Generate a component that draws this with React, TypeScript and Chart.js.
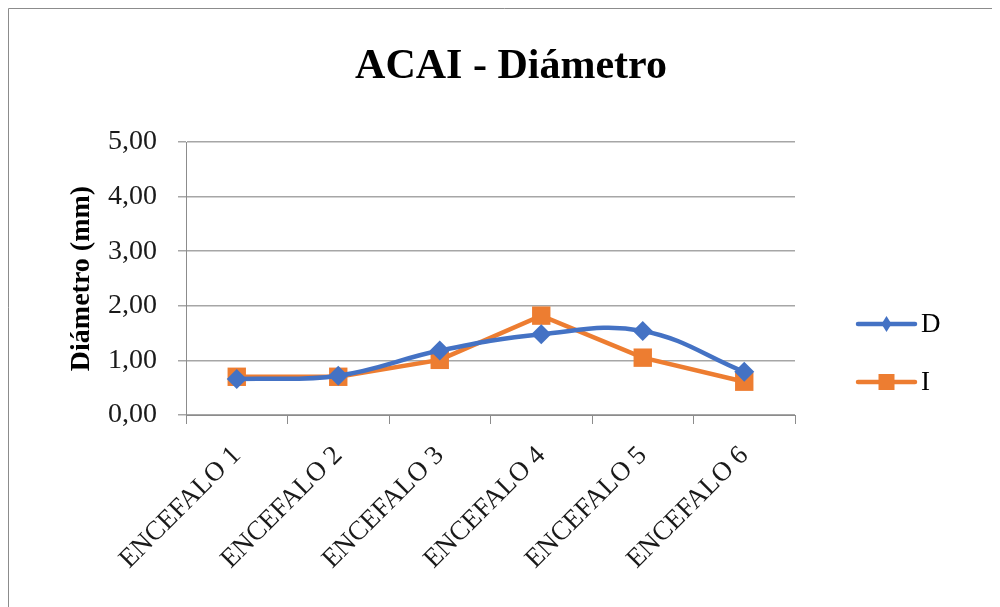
import React, { useEffect, useRef } from "react";
import { Chart, registerables } from "chart.js";

Chart.register(...registerables);

const categories = ["ENCEFALO 1", "ENCEFALO 2", "ENCEFALO 3", "ENCEFALO 4", "ENCEFALO 5", "ENCEFALO 6"];
const seriesD = [0.66, 0.72, 1.18, 1.48, 1.54, 0.79];
const seriesI = [0.70, 0.70, 1.01, 1.82, 1.05, 0.61];
const yTicks = [0, 1, 2, 3, 4, 5];
const chartTitle = "ACAI - Diámetro";
const yTitle = "Diámetro (mm)";

const BLUE = "#4472C4";
const ORANGE = "#ED7D31";
const SERIF = "'Liberation Serif', 'Times New Roman', serif";

const framePlugin = {
  id: "frame",
  afterDraw(chart: any) {
    const ctx = chart.ctx;
    ctx.save();
    ctx.strokeStyle = "#8c8c8c";
    ctx.lineWidth = 1;
    ctx.beginPath();
    ctx.moveTo(0.5, chart.height);
    ctx.lineTo(0.5, 0.5);
    ctx.lineTo(chart.width, 0.5);
    ctx.stroke();
    ctx.restore();
  },
};

const titlePlugin = {
  id: "titleText",
  afterDraw(chart: any) {
    const ctx = chart.ctx;
    ctx.save();
    ctx.fillStyle = "#000";
    ctx.font = "bold 42px " + SERIF;
    ctx.textAlign = "center";
    ctx.textBaseline = "alphabetic";
    ctx.fillText(chartTitle, 503, 70);
    ctx.restore();
  },
};

const legendPlugin = {
  id: "customLegend",
  afterDraw(chart: any) {
    const ctx = chart.ctx;
    const items = chart.data.datasets;
    const x0 = 850;
    const x1 = 907;
    const ys = [316, 374];
    ctx.save();
    items.forEach((ds: any, i: number) => {
      const y = ys[i];
      ctx.strokeStyle = ds.borderColor;
      ctx.lineWidth = 4.5;
      ctx.lineCap = "round";
      ctx.beginPath();
      ctx.moveTo(x0, y);
      ctx.lineTo(x1, y);
      ctx.stroke();
      ctx.fillStyle = ds.borderColor;
      const cx = (x0 + x1) / 2;
      ctx.beginPath();
      if (ds.pointStyle === "rectRot") {
        ctx.moveTo(cx, y - 8);
        ctx.lineTo(cx + 5, y);
        ctx.lineTo(cx, y + 8);
        ctx.lineTo(cx - 5, y);
        ctx.closePath();
      } else {
        ctx.rect(cx - 8, y - 8, 16, 16);
      }
      ctx.fill();
      ctx.fillStyle = "#000";
      ctx.font = "27px " + SERIF;
      ctx.textBaseline = "middle";
      ctx.textAlign = "left";
      ctx.fillText(ds.label, x1 + 6, y + 1);
    });
    ctx.restore();
  },
};

export default function App() {
  const ref = useRef<HTMLCanvasElement>(null);
  useEffect(() => {
    if (!ref.current) return;
    const chart = new Chart(ref.current, {
      type: "line",
      data: {
        labels: categories,
        datasets: [
          {
            label: "D",
            data: seriesD,
            borderColor: BLUE,
            backgroundColor: BLUE,
            borderWidth: 4.5,
            tension: 0.4,
            pointStyle: "rectRot",
            pointRadius: 10,
            pointBorderWidth: 0,
          },
          {
            label: "I",
            data: seriesI,
            borderColor: ORANGE,
            backgroundColor: ORANGE,
            borderWidth: 4.5,
            tension: 0,
            pointStyle: "rect",
            pointRadius: 13,
            pointBorderWidth: 0,
          },
        ],
      },
      options: {
        animation: false,
        responsive: false,
        layout: { padding: { left: 0, right: 205, top: 134, bottom: 0 } },
        plugins: {
          legend: { display: false },
          tooltip: { enabled: false },
          title: { display: false },
        },
        scales: {
          x: {
            offset: true,
            grid: {
              offset: true,
              display: true,
              drawOnChartArea: false,
              drawTicks: true,
              tickLength: 9,
              color: "#8c8c8c",
            },
            border: { color: "#8c8c8c", width: 1 },
            ticks: {
              color: "#1a1a1a",
              font: { family: SERIF, size: 27 },
              maxRotation: 45,
              minRotation: 45,
              padding: 16,
              autoSkip: false,
            },
            afterFit(scale: any) {
              scale.height = 192;
            },
          },
          y: {
            min: 0,
            max: 5,
            afterBuildTicks(scale: any) {
              scale.ticks = yTicks.map((v) => ({ value: v }));
            },
            grid: {
              color: "#a6a6a6",
              lineWidth: 1.5,
              drawTicks: true,
              tickLength: 8,
            },
            border: { color: "#8c8c8c", width: 1 },
            ticks: {
              color: "#1a1a1a",
              font: { family: SERIF, size: 28 },
              padding: 21,
              callback: (v: any) => Number(v).toFixed(2).replace(".", ","),
            },
            title: {
              display: true,
              text: yTitle,
              color: "#000",
              font: { family: SERIF, size: 28, weight: "bold" },
              padding: { top: 57, bottom: 0 },
            },
            afterFit(scale: any) {
              scale.width = 178;
            },
          },
        },
      },
      plugins: [framePlugin, titlePlugin, legendPlugin],
    });
    return () => chart.destroy();
  }, []);
  return (
    <div style={{ width: 992, height: 599 }}>
      <canvas ref={ref} width={992} height={599} style={{ display: "block" }} />
    </div>
  );
}
